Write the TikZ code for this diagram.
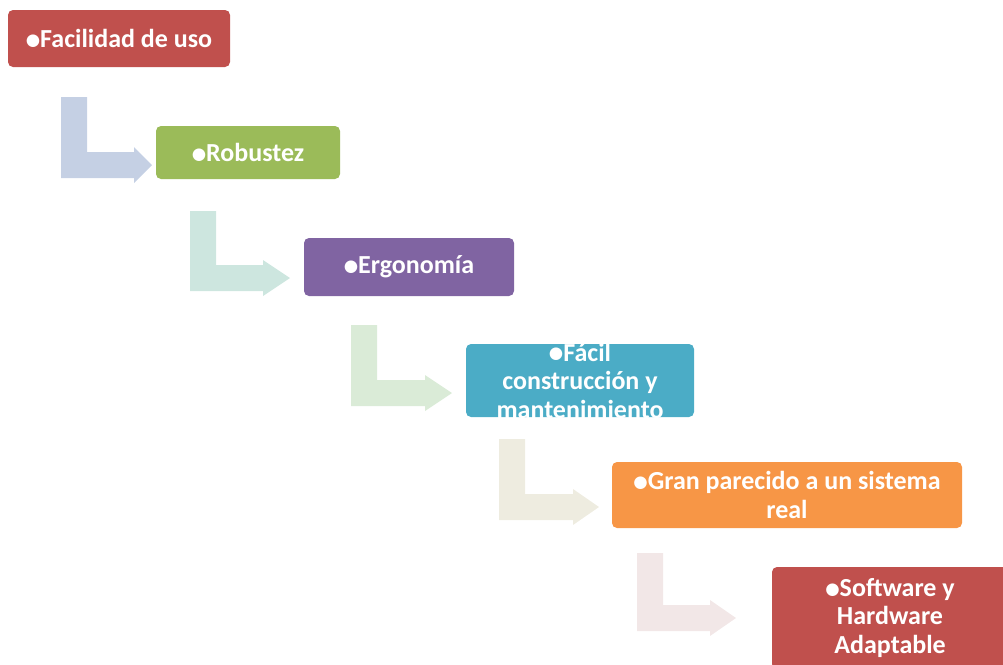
\documentclass[tikz,border=0pt]{standalone}
\usepackage{fontspec}
\setmainfont{Carlito}
\newfontfamily\bulletfont{DejaVu Sans}
\usepackage{tikz}

% bullet as printed in the boxes
\newcommand{\bul}{\raisebox{2.3pt}{\bulletfont\fontsize{16.5}{16.5}\selectfont ●}}
% bent arrow: colour, left x, top y, bar top y, head start x, tip x
\newcommand{\bentarrow}[6]{%
    \fill[#1] (#2,#3) -- ({#2+26},#3) -- ({#2+26},#4) -- (#5,#4) -- (#5,{#4-5})
        -- (#6,{#4+13}) -- (#5,{#4+31}) -- (#5,{#4+26}) -- (#2,{#4+26}) -- cycle;}

\begin{document}
\begin{tikzpicture}[x=1pt, y=-1pt,
    inner sep=0pt, outer sep=0pt,%
    step_box/.style={fill=#1, rounded corners=5pt, text=white, align=center,
        font=\bfseries\fontsize{26}{28.5}\selectfont},
    step_text/.style={text=white, align=center,
        font=\bfseries\fontsize{26}{28.5}\selectfont},
]
    % Colors
    \definecolor{boxred}{HTML}{C0504D}
    \definecolor{boxgreen}{HTML}{9BBB59}
    \definecolor{boxpurple}{HTML}{8064A2}
    \definecolor{boxteal}{HTML}{4BACC6}
    \definecolor{boxorange}{HTML}{F79646}
    \definecolor{arrowblue}{HTML}{C5D0E4}
    \definecolor{arrowmint}{HTML}{CDE6DF}
    \definecolor{arrowgreen}{HTML}{DAEBD7}
    \definecolor{arrowbeige}{HTML}{EEECE0}
    \definecolor{arrowpink}{HTML}{F2E7E7}

    % Frame
    \useasboundingbox (0,0) rectangle (1003,664);

    % Bent arrows between the steps
    \bentarrow{arrowblue}{61}{97}{152}{134}{152}
    \bentarrow{arrowmint}{190}{211}{265}{263}{290}
    \bentarrow{arrowgreen}{351}{325}{380}{425}{452}
    \bentarrow{arrowbeige}{499}{439}{494}{573}{599}
    \bentarrow{arrowpink}{637}{553}{605}{710}{736}

    % Steps
    \node[step_box=boxred, minimum width=222pt, minimum height=57pt] (uso) at (119,38.5)
        {\bul Facilidad de uso};
    \node[step_box=boxgreen, minimum width=184pt, minimum height=53pt] (robustez) at (248,152.5)
        {\bul Robustez};
    \node[step_box=boxpurple, minimum width=210pt, minimum height=58pt] (ergonomia) at (409,267)
        {\bul Ergonomía};
    \node[step_box=boxteal, minimum width=228pt, minimum height=73pt] (construccion) at (580,380.5) {};
    \begin{scope}
        \clip[rounded corners=5pt] (construccion.south west) rectangle (construccion.north east);
        \node[step_text] (construccion_text) at (construccion.center)
            {\bul Fácil\\construcción y\\mantenimiento};
    \end{scope}
    \node[step_box=boxorange, minimum width=350pt, minimum height=66pt] (parecido) at (787,495)
        {\bul Gran parecido a un sistema\\real};
    \node[step_box=boxred, minimum width=236pt, minimum height=102pt] (adaptable) at (890,618)
        {\bul Software y\\Hardware\\Adaptable};
\end{tikzpicture}
\end{document}
